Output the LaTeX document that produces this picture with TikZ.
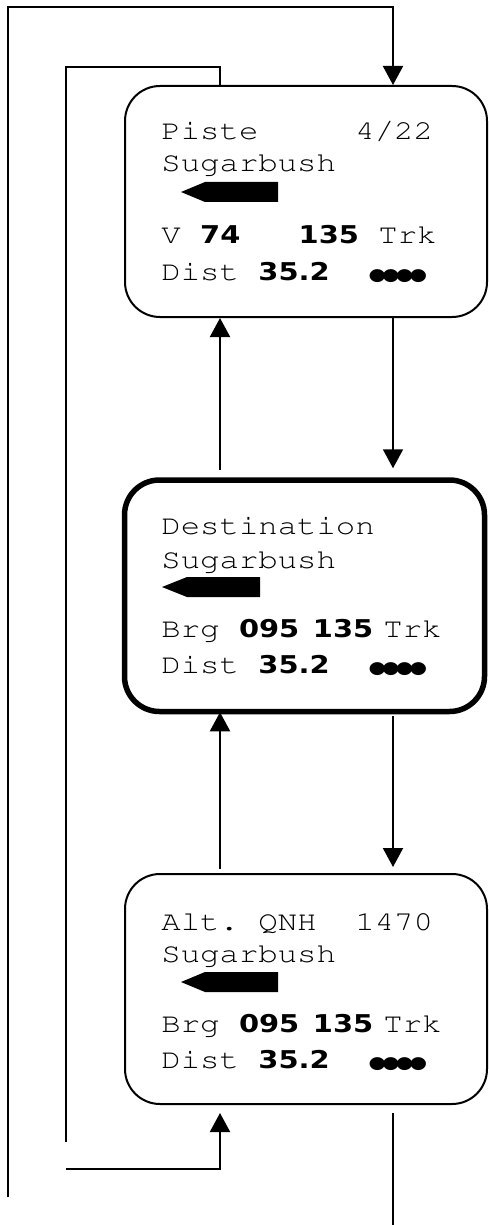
\documentclass[tikz,border=0pt]{standalone}
\usepackage[T1]{fontenc}
\usepackage{fontspec}
\usepackage{graphicx}
\usepackage{tikz}
\usetikzlibrary{arrows.meta}

\newfontfamily\numfont{DejaVu Sans}
\newfontfamily\dotfont{DejaVu Sans}[LetterSpace=-19]
\newcommand\lcdfont{\fontencoding{T1}\fontfamily{pcr}\fontseries{m}\fontshape{n}\fontsize{13.7}{15}\selectfont}
\newcommand\lcd[1]{\scalebox{1.18}[1]{\lcdfont #1}}
\newcommand\B[1]{{\numfont\bfseries\fontsize{12.25}{14}\selectfont #1}}
\newcommand\bars{{\dotfont\fontsize{8.5}{10}\selectfont ●●●●}}

\begin{document}
\begin{tikzpicture}[x=0.5pt, y=-0.5pt,
    screen/.style={draw, line width=1pt, rounded corners=17.5pt, minimum width=181pt, minimum height=115.5pt, inner sep=0pt},
    lcdline/.style={anchor=base west, inner sep=0pt},
    flow/.style={line width=1pt, -{Triangle[width=10pt,length=9.5pt]}},
    link/.style={line width=1pt}]
    \useasboundingbox (0,0) rectangle (488,1225);

    % Screens
    \node[screen] (piste) at (306,201.5) {};
    \node[screen, line width=2.75pt, minimum width=180pt, minimum height=115.75pt] (dest) at (304.5,595.75) {};
    \node[screen, minimum height=115pt] (alt) at (306,989) {};

    % Runway page
    \node[lcdline] (piste-title) at (161,140) {\lcd{Piste~~~~~4/22}};
    \node[lcdline] (piste-name) at (161,172) {\lcd{Sugarbush}};
    \fill (181,192) -- (205,182) -- (278,182) -- (278,202) -- (205,202) -- cycle;
    \node[lcdline] (piste-speed) at (161,243) {\lcd{V \B{74}~~~\B{135} Trk}};
    \node[lcdline] (piste-dist) at (161,280) {\lcd{Dist \B{35.2}~~\bars}};

    % Destination page
    \node[lcdline] (dest-title) at (161,534) {\lcd{Destination}};
    \node[lcdline] (dest-name) at (161,568) {\lcd{Sugarbush}};
    \fill (162,587) -- (187,577) -- (260,577) -- (260,597) -- (187,597) -- cycle;
    \node[lcdline] (dest-brg) at (161,637) {\lcd{Brg \B{095\kern1.5pt\ 135 }Trk}};
    \node[lcdline] (dest-dist) at (161,673) {\lcd{Dist \B{35.2}~~\bars}};

    % Altitude page
    \node[lcdline] (alt-title) at (161,930) {\lcd{Alt.~QNH~~1470}};
    \node[lcdline] (alt-name) at (161,962) {\lcd{Sugarbush}};
    \fill (181,982) -- (205,972) -- (278,972) -- (278,992) -- (205,992) -- cycle;
    \node[lcdline] (alt-brg) at (161,1032) {\lcd{Brg \B{095\kern1.5pt\ 135 }Trk}};
    \node[lcdline] (alt-dist) at (161,1068) {\lcd{Dist \B{35.2}~~\bars}};

    % Columns and loose ends
    \coordinate (rcol) at (393,0);
    \coordinate (lcol) at (220,0);
    \coordinate (loopA) at (8,1197);
    \coordinate (loopB) at (393,7);
    \coordinate (backA) at (66,67);
    \coordinate (backB) at (66,1142);
    \coordinate (backC) at (66,1169);
    \coordinate (exit) at (393,1225);

    % Between the pages
    \draw[flow, shorten >=4.5pt] (piste.south -| rcol) -- (dest.north -| rcol);
    \draw[flow, shorten <=3.5pt] (dest.north -| lcol) -- (piste.south -| lcol);
    \draw[flow, shorten <=1pt, shorten >=3pt] (dest.south -| rcol) -- (alt.north -| rcol);
    \draw[flow, shorten <=2pt, shorten >=-1pt] (alt.north -| lcol) -- (dest.south -| lcol);

    % Outer loops
    \draw[flow] (loopA) |- (loopB) -- (piste.north -| loopB);
    \draw[link] (piste.north -| lcol) |- (backA) -- (backB);
    \draw[flow, shorten >=4pt] (backC) -| (alt.south -| lcol);
    \draw[link, shorten <=4pt] (alt.south -| rcol) -- (exit);
\end{tikzpicture}
\end{document}
